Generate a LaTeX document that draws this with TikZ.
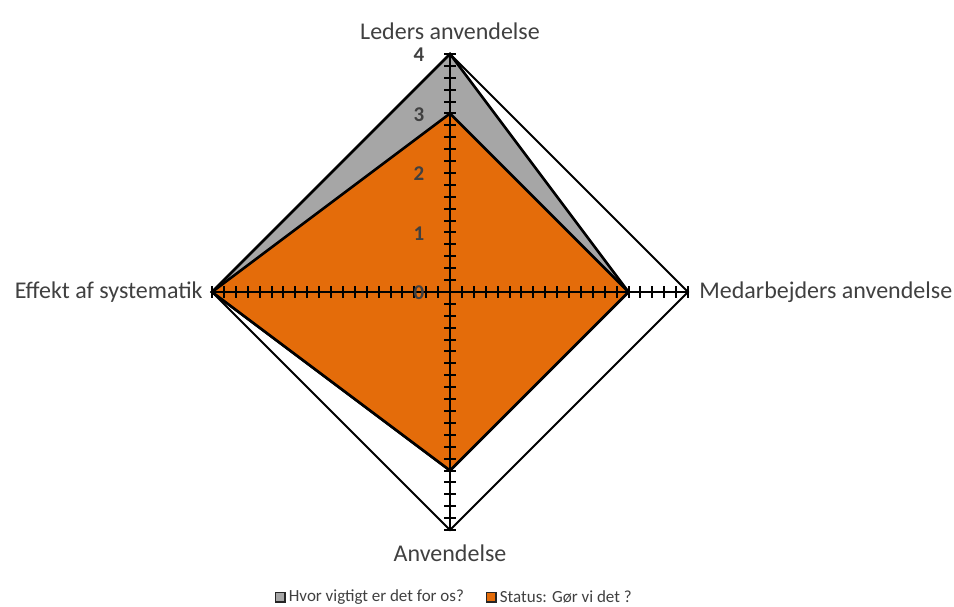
\documentclass[tikz,border=0pt]{standalone}
\usepackage{fontspec}
\setmainfont{Carlito}
\usetikzlibrary{positioning, calc}
\definecolor{statusorange}{HTML}{E46C0A}
\definecolor{viggray}{HTML}{A6A6A6}
\definecolor{lblgray}{HTML}{404040}
\tikzset{
  series/.style={draw=black, line width=1.3pt, line join=miter},
  axislbl/.style={font=\fontsize{12}{14}\selectfont, text=lblgray, inner sep=1pt},
  numlbl/.style={font=\fontsize{10.5}{12}\selectfont\bfseries, text=lblgray, inner sep=0pt},
  legbox/.style={draw=black!85, line width=0.7pt, minimum size=4.8pt, inner sep=0pt},
  legtxt/.style={font=\fontsize{8.5}{10}\selectfont, text=lblgray, inner sep=0pt}
}
\begin{document}
\begin{tikzpicture}[x=0.5pt,y=0.5pt]
  \useasboundingbox (0,0) rectangle (954,606);
  \def\u{59.5}
  % Center and axis ends
  \coordinate (O) at (450,314);
  \coordinate (T) at ($(O)+(0,4*\u)$);
  \coordinate (R) at ($(O)+(4*\u,0)$);
  \coordinate (B) at ($(O)+(0,-4*\u)$);
  \coordinate (L) at ($(O)+(-4*\u,0)$);
  % Outer grid ring
  \draw[line width=0.9pt, fill=white] (T) -- (R) -- (B) -- (L) -- cycle;
  % Series: Hvor vigtigt er det for os?
  \filldraw[series, fill=viggray]
    (T) -- ($(O)+(3*\u,0)$) -- ($(O)+(0,-3*\u)$) -- (L) -- cycle;
  % Series: Status
  \filldraw[series, fill=statusorange]
    ($(O)+(0,3*\u)$) -- ($(O)+(3*\u,0)$) -- ($(O)+(0,-3*\u)$) -- (L) -- cycle;
  % Axes
  \draw[line width=1pt] (T) -- (B);
  \draw[line width=1pt] (L) -- (R);
  % Tick marks
  \foreach \k in {1,...,20}{
    \draw[line width=1pt] ($(O)+(-6,\k*\u/5)$) -- ++(12,0);
    \draw[line width=1pt] ($(O)+(-6,-\k*\u/5)$) -- ++(12,0);
    \draw[line width=1pt] ($(O)+(\k*\u/5,-6)$) -- ++(0,12);
    \draw[line width=1pt] ($(O)+(-\k*\u/5,-6)$) -- ++(0,12);
  }
  % Scale numbers
  \foreach \k in {0,...,4}{
    \node[numlbl] (n\k) at ($(O)+(-31,\k*\u-1)$) {\k};
  }
  % Axis labels
  \node[axislbl, above=6pt of T] (lt) {Leders anvendelse};
  \node[axislbl, right=4.5pt of R] (lr) {Medarbejders anvendelse};
  \node[axislbl, below=6pt of B] (lb) {Anvendelse};
  \node[axislbl, left=3.5pt of L] (ll) {Effekt af systematik};
  % Legend
  \node[legbox, fill=viggray] (k1) at (280,9) {};
  \node[legtxt, right=1.5pt of k1] (t1) {Hvor vigtigt er det for os?};
  \node[legbox, fill=statusorange] (k2) at (491,9) {};
  \node[legtxt, right=1.5pt of k2] (t2) {Status: Gør vi det ?};
\end{tikzpicture}
\end{document}
